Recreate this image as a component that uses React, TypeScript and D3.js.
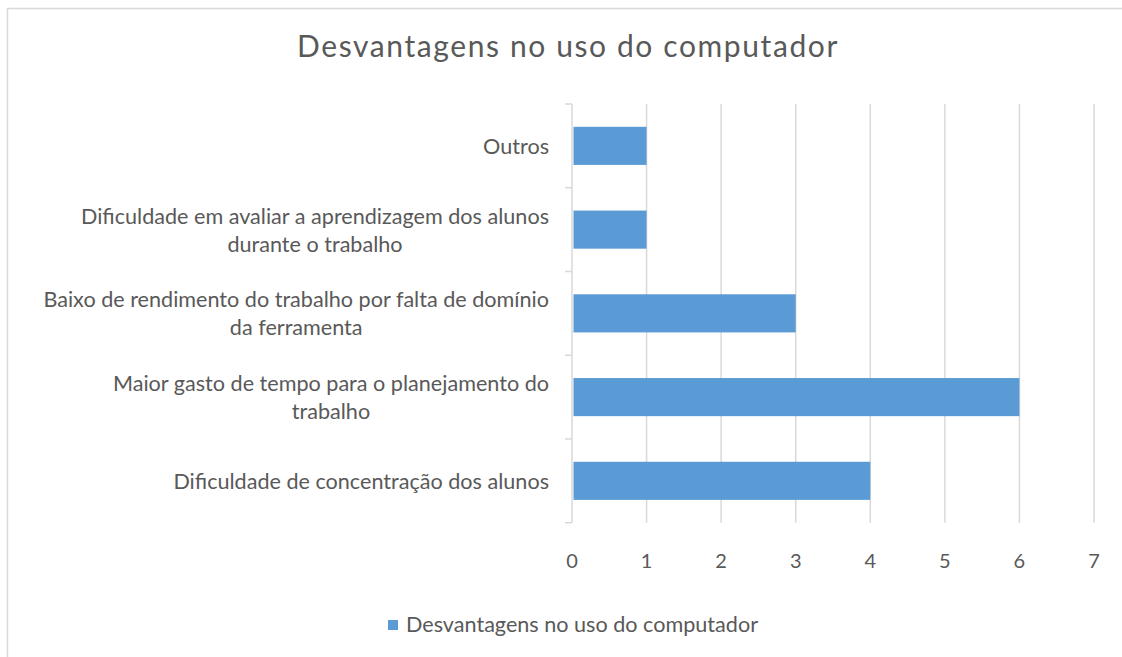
import React from "react";
import * as d3 from "d3";

const title = "Desvantagens no uso do computador";
const seriesName = "Desvantagens no uso do computador";
const categories = [
  "Outros",
  "Dificuldade em avaliar a aprendizagem dos alunos\ndurante o trabalho",
  "Baixo de rendimento do trabalho por falta de domínio\nda ferramenta",
  "Maior gasto de tempo para o planejamento do\ntrabalho",
  "Dificuldade de concentração dos alunos",
];
const values = [1, 1, 3, 6, 4];
const xTicks = [0, 1, 2, 3, 4, 5, 6, 7];

const W = 1122;
const H = 657;
const FONT = "Lato, 'Open Sans', sans-serif";
const TEXT = "#595959";
const GRID = "#d9d9d9";
const BAR = "#5B9BD5";

export default function App() {
  const x = d3.scaleLinear().domain([0, 7]).range([572, 1094]);
  const y = d3.scaleBand<string>().domain(categories).range([104, 522.7]).paddingInner(0.545).paddingOuter(0.2725);
  const bandEdges = d3.scaleBand<string>().domain(categories).range([104, 522.7]);
  const labelRight = 549;
  const lineH = 28;

  return (
    <div style={{ position: "absolute", left: 0, top: 0 }}>
      <svg width={W} height={H} style={{ display: "block" }}>
        <rect x={0} y={0} width={W} height={H} fill="#fff" />
        <rect x={7.5} y={8.5} width={W + 20} height={H + 20} fill="none" stroke={GRID} strokeWidth={1.5} />
        <text x={568} y={57} textAnchor="middle" fontFamily={FONT} fontSize={30} letterSpacing={1.6} fill={TEXT}>
          {title}
        </text>
        {xTicks.slice(1).map((t) => (
          <line key={"g" + t} x1={x(t)} x2={x(t)} y1={104} y2={522.7} stroke={GRID} strokeWidth={1.5} />
        ))}
        <line x1={x(0)} x2={x(0)} y1={104} y2={522.7} stroke={GRID} strokeWidth={1.5} />
        {categories.map((c) => (
          <line key={"t" + c} x1={565} x2={x(0)} y1={bandEdges(c)!} y2={bandEdges(c)!} stroke={GRID} strokeWidth={1.5} />
        ))}
        <line x1={565} x2={x(0)} y1={522.7} y2={522.7} stroke={GRID} strokeWidth={1.5} />
        {categories.map((c, i) => (
          <rect key={"b" + c} x={x(0) + 1.5} y={y(c)!} width={x(values[i]) - x(0) - 1.5} height={y.bandwidth()} fill={BAR} />
        ))}
        {categories.map((c) => {
          const lines = c.split("\n");
          const center = bandEdges(c)! + bandEdges.bandwidth() / 2;
          const first = center + 8 - ((lines.length - 1) * lineH) / 2;
          return (
            <text
              key={"l" + c}
              fontFamily={FONT}
              fontSize={21.6}
              fill={TEXT}
              ref={(el) => {
                if (!el) return;
                const tspans = Array.from(el.querySelectorAll("tspan")) as SVGTSpanElement[];
                const widths = tspans.map((t) => t.getComputedTextLength());
                const maxW = Math.max(...widths);
                const cx = labelRight - maxW / 2;
                tspans.forEach((t) => {
                  t.setAttribute("x", String(cx));
                  t.setAttribute("text-anchor", "middle");
                });
              }}
            >
              {lines.map((ln, k) => (
                <tspan key={k} x={labelRight} y={first + k * lineH} textAnchor="end">
                  {ln}
                </tspan>
              ))}
            </text>
          );
        })}
        {xTicks.map((t) => (
          <text key={"x" + t} x={x(t)} y={568} textAnchor="middle" fontFamily={FONT} fontSize={20} fill={TEXT}>
            {t}
          </text>
        ))}
        <rect x={388} y={620} width={10} height={10} fill={BAR} />
        <text x={406} y={632} fontFamily={FONT} fontSize={21.6} fill={TEXT}>
          {seriesName}
        </text>
      </svg>
    </div>
  );
}
